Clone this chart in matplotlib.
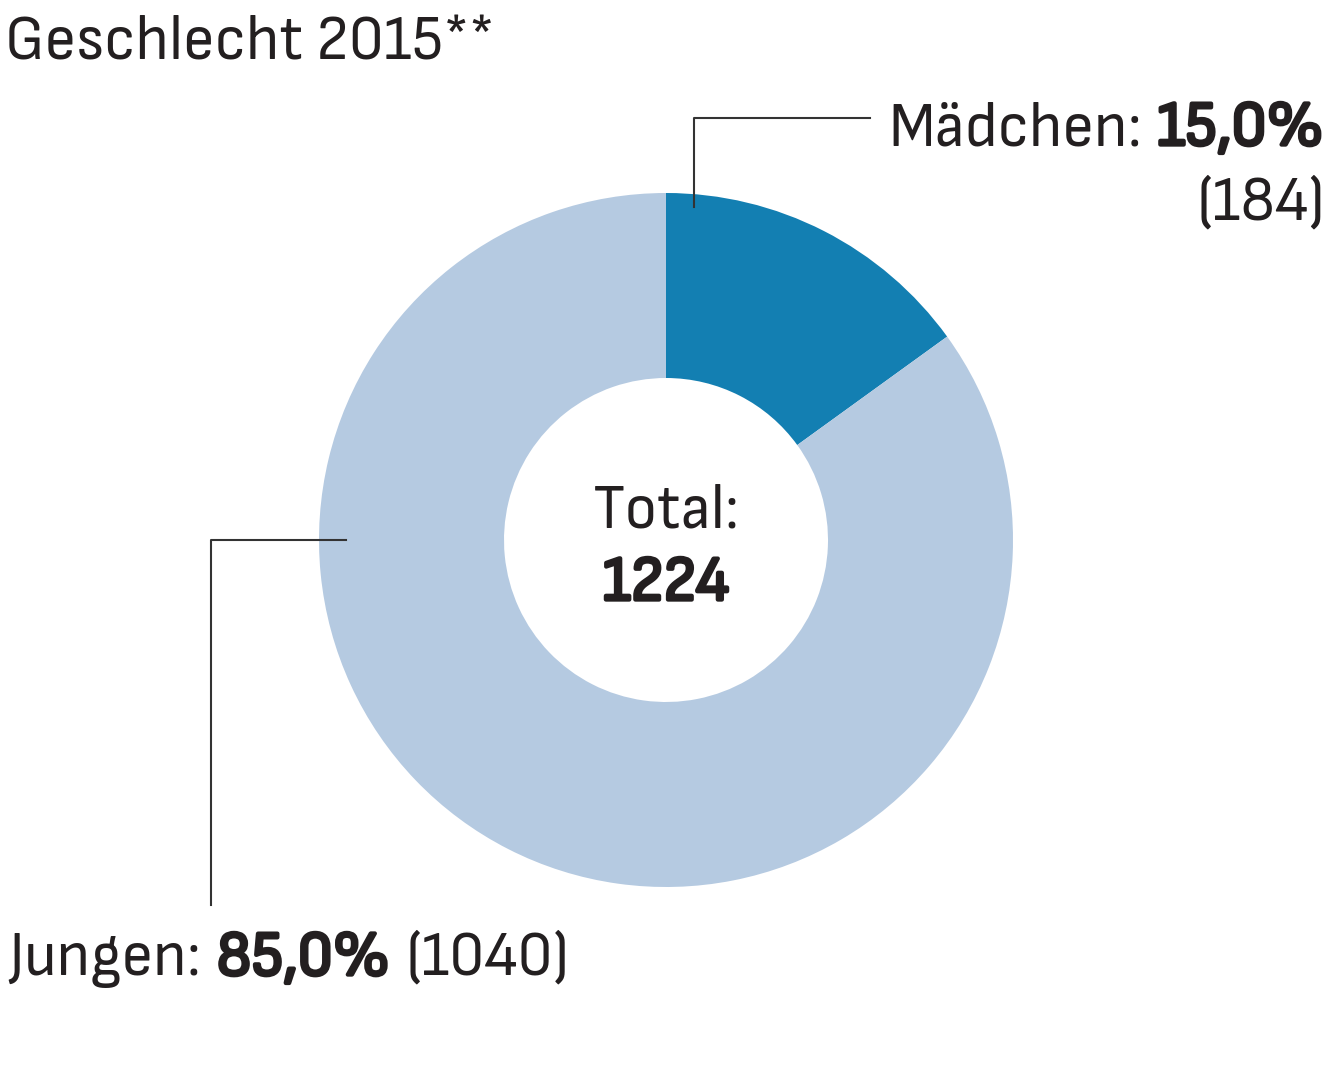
import matplotlib
matplotlib.use("Agg")
import matplotlib.pyplot as plt
import matplotlib.patheffects as pe

categories = ["Mädchen", "Jungen"]
counts = [184, 1040]
percent_labels = ["15,0%", "85,0%"]
total = 1224
title = "Geschlecht 2015**"

W, H = 1336, 1085
FAM = ["Sofia Sans Semi Condensed", "DejaVu Sans"]
TXT = "#231f20"
colors = ["#137fb2", "#b5cae1"]

fig = plt.figure(figsize=(W / 100, H / 100), dpi=100)
ax = fig.add_axes([0, 0, 1, 1])
cx, cy, R = 666, H - 540, 347
ax.pie(counts, colors=colors, startangle=90, counterclock=False,
       center=(cx, cy), radius=R,
       wedgeprops=dict(width=R - 162, linewidth=0))
ax.set_xlim(0, W)
ax.set_ylim(0, H)
ax.set_aspect("auto")
ax.axis("off")

lc = "#333333"
ax.plot([694, 694, 870], [H - 207, H - 118, H - 118], color=lc, lw=1.5)
ax.plot([346, 211, 211], [H - 540, H - 540, H - 905], color=lc, lw=1.5)

FS = 46
BOLD = [pe.withStroke(linewidth=2.4, foreground=TXT)]
fig.canvas.draw()
r = fig.canvas.get_renderer()


def txt(x, y, s, bold=False, **kw):
    return ax.text(x, H - y, s, fontsize=FS, family=FAM, color=TXT,
                   va="baseline", path_effects=BOLD if bold else None, **kw)


def seq(x, y, parts, ha="left"):
    objs = [txt(0, y, s, bold=b, ha="left") for s, b in parts]
    widths = [o.get_window_extent(r).width + (3 if b else 0)
              for o, (s, b) in zip(objs, parts)]
    gap = FS * 1.389 * 0.22
    total_w = sum(widths) + gap * (len(objs) - 1)
    x0 = x - total_w if ha == "right" else x
    for o, wdt, (s, b) in zip(objs, widths, parts):
        o.set_x(x0 + (1.5 if b else 0))
        x0 += wdt + gap


txt(5, 60, title, ha="left")
seq(1325, 145, [(categories[0] + ":", False), (percent_labels[0], True)], ha="right")
txt(1325, 220, f"({counts[0]})", ha="right")
seq(8, 975, [(categories[1] + ":", False), (percent_labels[1], True),
             (f"({counts[1]})", False)])
txt(cx, 528, "Total:", ha="center")
txt(cx, 600, str(total), bold=True, ha="center")

fig.savefig("out.png", dpi=100, facecolor="white")
